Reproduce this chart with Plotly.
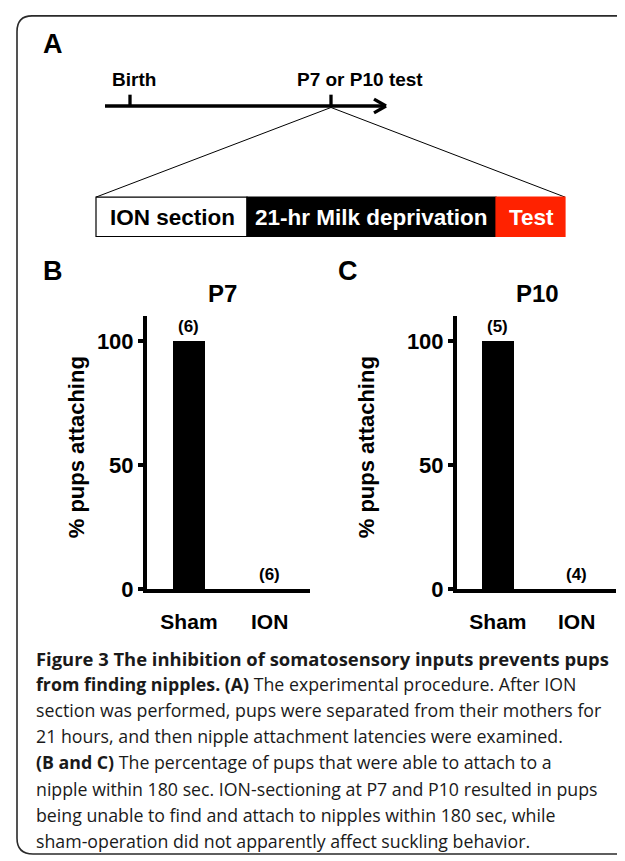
import plotly.graph_objects as go

# ---------------- data ----------------
categories = ["Sham", "ION"]
p7_values = [100, 0]
p10_values = [100, 0]
p7_n = ["(6)", "(6)"]
p10_n = ["(5)", "(4)"]
y_tick_vals = [0, 50, 100]
y_tick_text = ["0", "50", "100"]
panel_titles = ["P7", "P10"]
y_title = "% pups attaching"
timeline_labels = ["Birth", "P7 or P10 test"]
box_labels = ["ION section", "21-hr Milk deprivation", "Test"]
caption_lines = [
    "<b>Figure 3 The inhibition of somatosensory inputs prevents pups</b>",
    "<b>from finding nipples. (A)</b> The experimental procedure. After ION",
    "section was performed, pups were separated from their mothers for",
    "21 hours, and then nipple attachment latencies were examined.",
    "<b>(B and C)</b> The percentage of pups that were able to attach to a",
    "nipple within 180 sec. ION-sectioning at P7 and P10 resulted in pups",
    "being unable to find and attach to nipples within 180 sec, while",
    "sham-operation did not apparently affect suckling behavior.",
]

W, H = 625, 861


def px(x):
    return x / W


def py(y):
    return 1 - y / H


FONT = "Liberation Sans, Arial, Helvetica, sans-serif"

fig = go.Figure()

fig.add_trace(go.Bar(x=categories, y=p7_values, width=0.4, marker=dict(color="black", line=dict(width=0)),
                     xaxis="x", yaxis="y", showlegend=False, hoverinfo="skip"))
fig.add_trace(go.Bar(x=categories, y=p10_values, width=0.4, marker=dict(color="black", line=dict(width=0)),
                     xaxis="x2", yaxis="y2", showlegend=False, hoverinfo="skip"))

xcommon = dict(type="category", showline=True, linewidth=4, linecolor="black", showgrid=False, zeroline=False,
               ticks="outside", ticklen=11, tickcolor="rgba(0,0,0,0)",
               tickfont=dict(family=FONT, size=21, color="black", weight="bold"), fixedrange=True)
ycommon = dict(range=[0, 110], tickvals=y_tick_vals, ticktext=y_tick_text, showline=True, linewidth=4,
               linecolor="black", showgrid=False, zeroline=False, ticks="outside", ticklen=5, tickwidth=4,
               tickcolor="black", tickfont=dict(family=FONT, size=22, color="black", weight="bold"),
               fixedrange=True)

fig.update_layout(
    width=W, height=H, margin=dict(l=0, r=0, t=0, b=0),
    paper_bgcolor="white", plot_bgcolor="white", bargap=0,
    xaxis=dict(domain=[px(139), px(302)], range=[-0.52, 1.5], anchor="y", **xcommon),
    yaxis=dict(domain=[py(590), py(313)], anchor="x", **ycommon),
    xaxis2=dict(domain=[px(449), px(608)], range=[-0.52, 1.5], anchor="y2", **xcommon),
    yaxis2=dict(domain=[py(590), py(313)], anchor="x2", **ycommon),
)

shapes = []
# rounded border (right side clipped by image edge)
border = (f"M {px(630)},{py(8)} L {px(24)},{py(8)} Q {px(9)},{py(8)} {px(9)},{py(24)} "
          f"L {px(9)},{py(843)} Q {px(9)},{py(859)} {px(25)},{py(859)} L {px(630)},{py(859)}")
shapes.append(dict(type="path", xref="paper", yref="paper", path=border, line=dict(color="#2a2a2a", width=1.6)))


def seg(x0, y0, x1, y1, w, c="black"):
    return dict(type="line", xref="paper", yref="paper", x0=px(x0), y0=py(y0), x1=px(x1), y1=py(y1),
                line=dict(color=c, width=w))


# timeline arrow
shapes.append(seg(97, 99.5, 378, 99.5, 3.3))
shapes.append(seg(366, 92.5, 378, 99.5, 3.3))
shapes.append(seg(366, 106.5, 378, 99.5, 3.3))
shapes.append(seg(122, 88, 122, 99.5, 3.3))
shapes.append(seg(323, 88, 323, 99.5, 3.3))
shapes.append(seg(323, 101, 88, 192, 1))
shapes.append(seg(323, 101, 557, 192, 1))


def rect(x0, x1, fill, lc):
    return dict(type="rect", xref="paper", yref="paper", x0=px(x0), x1=px(x1), y0=py(232), y1=py(192),
                fillcolor=fill, line=dict(color=lc, width=1.2))


shapes.append(rect(88, 239, "white", "black"))
shapes.append(rect(239, 488, "black", "black"))
shapes.append(rect(488, 557, "#FF2200", "#FF2200"))

fig.update_layout(shapes=shapes)

ann = []


def txt(x, y, s, size, color="black", angle=0):
    ann.append(dict(xref="paper", yref="paper", x=px(x), y=py(y), text=s, showarrow=False,
                    xanchor="center", yanchor="middle", textangle=angle,
                    font=dict(family=FONT, size=size, color=color, weight="bold")))


txt(45, 37, "A", 27)
txt(45, 267, "B", 27)
txt(340, 267, "C", 27)
txt(125.5, 73, timeline_labels[0], 19)
txt(352, 73, timeline_labels[1], 19)
txt(164, 213, box_labels[0], 22.5)
txt(363, 213, box_labels[1], 22.5, color="white")
txt(523, 213, box_labels[2], 22.5, color="white")
txt(215, 290, panel_titles[0], 24)
txt(529, 290, panel_titles[1], 24)
txt(68, 446, y_title, 22, angle=-90)
txt(358, 446, y_title, 22, angle=-90)

# sample sizes above bars (data coords)
for xa, ya, vals, ns in (("x", "y", p7_values, p7_n), ("x2", "y2", p10_values, p10_n)):
    for c, v, n in zip(categories, vals, ns):
        ann.append(dict(xref=xa, yref=ya, x=c, y=v, text=n, showarrow=False, yanchor="bottom", yshift=3,
                        font=dict(family=FONT, size=17, color="black", weight="bold")))

# caption
for i, line in enumerate(caption_lines):
    ann.append(dict(xref="paper", yref="paper", x=px(26), y=py(660 + i * 26.5), text=line, showarrow=False,
                    xanchor="left", yanchor="middle",
                    font=dict(family="Open Sans, sans-serif", size=18.4 if i == 0 else 17.75, color="#1a1a1a")))

fig.update_layout(annotations=ann)

fig.write_html("out.html")
